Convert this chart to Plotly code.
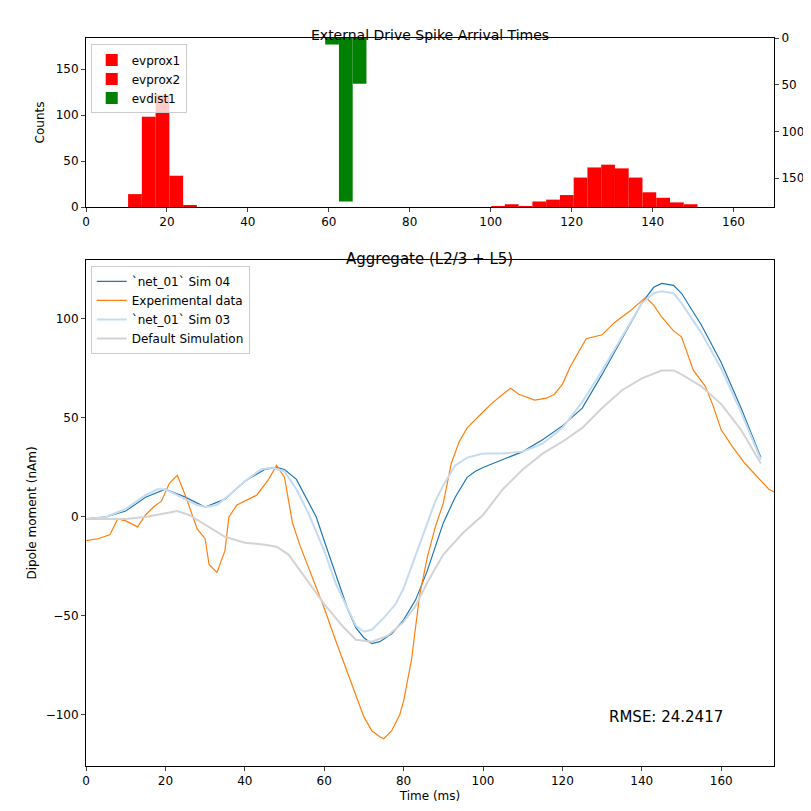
import plotly.graph_objects as go

# spike histogram (bin width ~3.4 ms)
prox1_t = [12.1, 15.5, 18.9, 22.3, 25.7]
prox1_n = [14, 98, 122, 34, 2]
prox2_t = [101.8, 105.2, 108.6, 112.0, 115.4, 118.8, 122.2, 125.6, 129.0, 132.4, 135.8, 139.2, 142.6, 146.0, 149.4]
prox2_n = [1, 3, 1, 6, 8, 13, 32, 43, 46, 42, 32, 16, 10, 5, 3]
dist1_t = [60.8, 64.2, 67.6]
dist1_n = [7, 175, 49]

sim03_t = [0, 5, 10, 15, 18, 20, 22, 25, 28, 30, 33, 36, 40, 44, 47, 50, 53, 56, 60, 63, 66, 68, 70, 72, 75, 78, 80, 83, 86, 88, 90, 93, 96, 100, 105, 110, 115, 120, 125, 130, 135, 140, 143, 145, 148, 150, 155, 160, 165, 170]
sim03_v = [-1, 0, 4, 11, 14, 14, 12, 9, 6, 5, 6, 11, 18, 24, 25, 23, 14, 2, -17, -34, -47, -55, -58, -57, -51, -44, -36, -20, -3, 8, 16, 26, 30, 32, 32, 33, 37, 45, 58, 74, 91, 108, 113, 114, 113, 108, 93, 75, 53, 29]
sim04_t = [0, 5, 10, 15, 20, 25, 30, 35, 40, 45, 48, 50, 53, 56, 58, 60, 63, 66, 68, 70, 72, 74, 77, 80, 83, 86, 88, 90, 93, 96, 98, 100, 105, 110, 115, 120, 125, 130, 135, 140, 143, 145, 148, 150, 155, 160, 165, 170]
sim04_v = [-1, 0, 3, 10, 14, 10, 5, 9, 18, 24, 25, 24, 19, 8, 0, -12, -30, -47, -56, -61, -64, -63, -59, -52, -42, -27, -15, -3, 10, 20, 23, 25, 29, 33, 39, 46, 55, 72, 90, 108, 116, 118, 117, 113, 97, 78, 55, 30]
default_t = [0, 10, 15, 20, 23, 26, 30, 35, 40, 45, 48, 51, 55, 60, 65, 68, 72, 76, 80, 83, 86, 90, 95, 100, 105, 110, 115, 120, 125, 130, 135, 140, 145, 148, 150, 155, 160, 165, 170]
default_v = [-1, -1, 0, 2, 3, 1, -4, -10, -13, -14, -15, -19, -30, -44, -56, -62, -63, -60, -53, -45, -33, -19, -8, 1, 14, 24, 32, 38, 45, 55, 64, 70, 74, 74, 72, 66, 57, 44, 27]
exp_t = [0, 3, 6, 8, 10, 13, 15, 17, 19, 21, 23, 25, 28, 30, 31, 33, 35, 36, 38, 40, 43, 46, 48, 50, 52, 54, 57, 60, 63, 66, 68, 70, 72, 74, 75, 77, 79, 80, 82, 84, 86, 88, 90, 92, 94, 96, 100, 102, 105, 107, 109, 113, 116, 118, 120, 122, 126, 130, 133, 137, 141, 143, 145, 148, 150, 153, 156, 158, 160, 163, 166, 170, 172, 174]
exp_v = [-12, -11, -9, -1, -2, -5, 1, 5, 8, 17, 21, 11, -6, -11, -24, -28, -17, 0, 6, 8, 11, 19, 26, 20, -3, -15, -30, -46, -63, -79, -90, -101, -108, -111, -112, -108, -100, -93, -72, -40, -20, -5, 7, 27, 38, 45, 53, 57, 62, 65, 62, 59, 60, 62, 67, 76, 90, 92, 98, 104, 111, 107, 101, 94, 91, 74, 66, 56, 44, 35, 27, 18, 14, 12]

fnt = dict(family="DejaVu Sans", size=12, color="black")
fig = go.Figure()

fig.add_trace(go.Bar(x=prox1_t, y=prox1_n, width=3.4, marker=dict(color="red", line_width=0), name="evprox1", legend="legend", xaxis="x", yaxis="y"))
fig.add_trace(go.Bar(x=prox2_t, y=prox2_n, width=3.4, marker=dict(color="red", line_width=0), name="evprox2", legend="legend", xaxis="x", yaxis="y"))
fig.add_trace(go.Bar(x=dist1_t, y=dist1_n, width=3.4, marker=dict(color="green", line_width=0), name="evdist1", legend="legend", xaxis="x", yaxis="y2"))

fig.add_trace(go.Scatter(x=sim04_t, y=sim04_v, mode="lines", line=dict(color="#1f77b4", width=1.2), name="`net_01` Sim 04", legend="legend2", xaxis="x3", yaxis="y3"))
fig.add_trace(go.Scatter(x=exp_t, y=exp_v, mode="lines", line=dict(color="#ff7f0e", width=1.2), name="Experimental data", legend="legend2", xaxis="x3", yaxis="y3"))
fig.add_trace(go.Scatter(x=sim03_t, y=sim03_v, mode="lines", line=dict(color="#c6dbef", width=2), name="`net_01` Sim 03", legend="legend2", xaxis="x3", yaxis="y3"))
fig.add_trace(go.Scatter(x=default_t, y=default_v, mode="lines", line=dict(color="#d3d3d3", width=2), name="Default Simulation", legend="legend2", xaxis="x3", yaxis="y3"))

ax = dict(showline=True, linecolor="black", linewidth=1, mirror=True, ticks="outside", ticklen=4,
          showgrid=False, zeroline=False, tickfont=fnt, automargin=False)
xd = [78 / 811, 766 / 811]
fig.update_layout(
    width=811, height=811, margin=dict(l=0, r=0, t=0, b=0, autoexpand=False),
    plot_bgcolor="white", paper_bgcolor="white", font=fnt, barmode="overlay",
    xaxis=dict(ax, domain=xd, range=[0, 170], dtick=20, anchor="y"),
    yaxis=dict(ax, domain=[1 - 199 / 811, 1 - 30 / 811], range=[0, 183.7], tickvals=[0, 50, 100, 150],
               title=dict(text="Counts", font=fnt, standoff=8)),
    yaxis2=dict(ax, overlaying="y", side="right", range=[181, 0], tickvals=[0, 50, 100, 150], mirror=False, anchor="x"),
    xaxis3=dict(ax, domain=xd, range=[0, 173.3], dtick=20, anchor="y3",
                title=dict(text="Time (ms)", font=fnt, standoff=4)),
    yaxis3=dict(ax, domain=[1 - 758 / 811, 1 - 252 / 811], range=[-125.8, 129.8], tickvals=[-100, -50, 0, 50, 100],
                tickformat="d", title=dict(text="Dipole moment (nAm)", font=fnt, standoff=6), anchor="x3"),
    legend=dict(x=0.102, y=0.955, xanchor="left", yanchor="top", bgcolor="rgba(255,255,255,0.8)",
                bordercolor="#cccccc", borderwidth=1, font=fnt, tracegroupgap=0),
    legend2=dict(x=0.102, y=0.682, xanchor="left", yanchor="top", bgcolor="rgba(255,255,255,0.8)",
                 bordercolor="#cccccc", borderwidth=1, font=fnt, tracegroupgap=0),
    separators=".\u2212",
    annotations=[
        dict(text="External Drive Spike Arrival Times", x=0.5203, y=1 - 17 / 811, xref="paper", yref="paper",
             showarrow=False, font=dict(family="DejaVu Sans", size=14)),
        dict(text="Aggregate (L2/3 + L5)", x=0.5203, y=1 - 240 / 811, xref="paper", yref="paper",
             showarrow=False, font=dict(family="DejaVu Sans", size=15)),
        dict(text="RMSE: 24.2417", x=0.738, y=1 - 720 / 811, xref="paper", yref="paper", xanchor="left",
             showarrow=False, font=dict(family="DejaVu Sans", size=15)),
    ],
)
fig.write_html("out.html")
